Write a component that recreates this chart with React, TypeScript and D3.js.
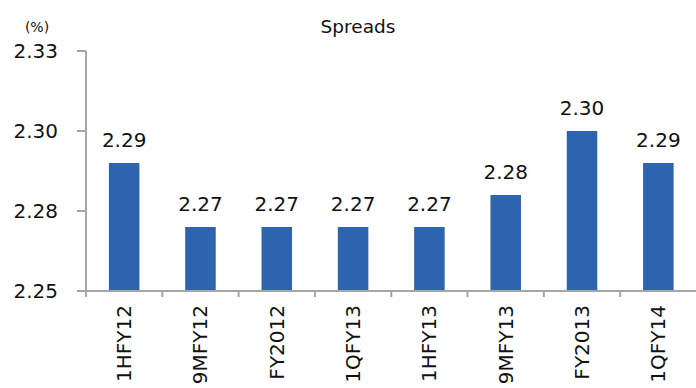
import React from "react";
import * as d3 from "d3";

const categories = ["1HFY12", "9MFY12", "FY2012", "1QFY13", "1HFY13", "9MFY13", "FY2013", "1QFY14"];
const spreads = [2.29, 2.27, 2.27, 2.27, 2.27, 2.28, 2.30, 2.29];
const yTicks = [2.25, 2.275, 2.3, 2.325];
const yTickLabels = ["2.25", "2.28", "2.30", "2.33"];
const title = "Spreads";
const unitLabel = "(%)";

const W = 696;
const H = 388;
const FONT = "'DejaVu Sans', sans-serif";

export default function App() {
  const left = 86;
  const right = 696.5;
  const top = 51;
  const bottom = 291;
  const x = d3.scaleBand<string>().domain(categories).range([left, right]).paddingInner(0.6).paddingOuter(0.3);
  const xStep = d3.scaleBand<string>().domain(categories).range([left, right]);
  const y = d3.scaleLinear().domain([2.25, 2.325]).range([bottom, top]);
  const fmt = d3.format(".2f");
  const axisColor = "#A6A6A6";

  return (
    <svg width={W} height={H} style={{ position: "absolute", left: 0, top: 0, background: "#fff" }} fontFamily={FONT}>
      <text x={358} y={33} textAnchor="middle" fontSize={18.5} fill="#111">{title}</text>
      <text x={37} y={32} textAnchor="middle" fontSize={14} fill="#111">{unitLabel}</text>
      {categories.map((c, i) => (
        <g key={c}>
          <rect x={x(c)} y={y(spreads[i])} width={x.bandwidth()} height={bottom - y(spreads[i])} fill="#2E64AE" />
          <text x={(x(c) as number) + x.bandwidth() / 2} y={y(spreads[i]) - 16} textAnchor="middle" fontSize={20} fill="#111">{fmt(spreads[i])}</text>
          <text
            transform={`translate(${(x(c) as number) + x.bandwidth() / 2 + 7},${305}) rotate(-90)`}
            textAnchor="end"
            fontSize={20}
            fill="#111"
          >{c}</text>
        </g>
      ))}
      {/* y axis */}
      <line x1={left} x2={left} y1={top} y2={bottom} stroke={axisColor} strokeWidth={2} />
      {yTicks.map((t, i) => (
        <g key={t}>
          <line x1={left - 9} x2={left} y1={y(t)} y2={y(t)} stroke={axisColor} strokeWidth={2} />
          <text x={58} y={y(t) + 7} textAnchor="end" fontSize={20} fill="#111">{yTickLabels[i]}</text>
        </g>
      ))}
      {/* x axis */}
      <line x1={left - 9} x2={W} y1={bottom} y2={bottom} stroke={axisColor} strokeWidth={2} />
      {categories.map((c) => (
        <line key={c} x1={xStep(c)} x2={xStep(c)} y1={bottom} y2={bottom + 6} stroke={axisColor} strokeWidth={2} />
      ))}
    </svg>
  );
}
